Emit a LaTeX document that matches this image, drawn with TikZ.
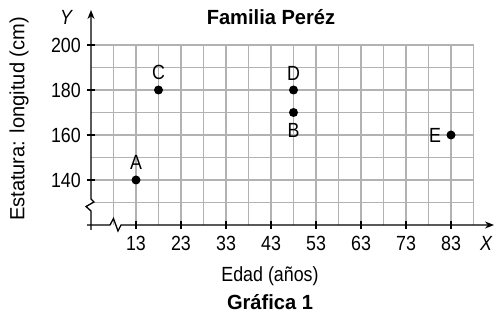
\documentclass[tikz,border=0pt]{standalone}
\usepackage{fontspec}
\setmainfont{Liberation Sans}[FakeStretch=0.87]
\newfontfamily\titlef{Liberation Sans}[FakeStretch=0.98]
\usetikzlibrary{arrows.meta}
\tikzset{
  gridline/.style={draw=black!30, line width=1.1pt},
  axisline/.style={draw=black, line width=1.3pt},
  tickline/.style={draw=black, line width=1.3pt},
  dot/.style={circle, fill=black, inner sep=0pt, minimum size=9pt},
  ticklbl/.style={inner sep=0pt},
  ptlbl/.style={inner sep=0pt},
  ttl/.style={inner sep=0pt, font=\titlef\bfseries\fontsize{20.5}{24}\selectfont},
}
\begin{document}
\begin{tikzpicture}[x=1pt,y=-1pt,font=\fontsize{20.5}{24}\selectfont]
\useasboundingbox (0,0) rectangle (495,320);
% grid
\foreach \i in {1,...,17} \draw[gridline] ({91+22.5*\i},45) -- ({91+22.5*\i},225);
\foreach \j in {0,...,7} \draw[gridline] (91,{45+22.5*\j}) -- (473.5,{45+22.5*\j});
% axes
\coordinate (xs) at (87,225);
\coordinate (xe) at (494,225);
\coordinate (ys) at (91,230);
\coordinate (ye) at (91,10);
\draw[axisline,-{Stealth[length=9pt,width=7pt]}] (xs) -- (110,225) -- (113.5,218.5) -- (118,231) -- (121,225) -- (xe);
\draw[axisline,-{Stealth[length=9pt,width=7pt]}] (ys) -- (91,211) -- (86,206.5) -- (94,202) -- (91,199) -- (ye);
% x ticks
\foreach \v [count=\k from 0] in {13,23,33,43,53,63,73,83} {
  \draw[tickline] ({136+45*\k},221) -- ({136+45*\k},229);
  \node[ticklbl] (xl\v) at ({136+45*\k},243.5) {\v};
}
% y ticks
\foreach \v/\yy in {200/45,180/90,160/135,140/180} {
  \draw[tickline] (87,\yy) -- (95,\yy);
  \node[ticklbl, anchor=east] (yl\v) at (81,\yy) {\v};
}
\node[ticklbl] (X) at (486,243.5) {\itshape X};
\node[ticklbl] (Y) at (66,17) {\itshape Y};
% points
\node[dot] (A) at (136,180) {};
\node[dot] (C) at (158.5,90) {};
\node[dot] (D) at (293.5,90) {};
\node[dot] (B) at (293.5,112.5) {};
\node[dot] (E) at (451,135) {};
\node[ptlbl] (lA) at (136,162) {A};
\node[ptlbl] (lC) at (158.5,72.5) {C};
\node[ptlbl] (lD) at (293.5,73) {D};
\node[ptlbl] (lB) at (293.5,130) {B};
\node[ptlbl] (lE) at (435,135) {E};
% titles
\node[ttl] (title) at (271,17) {Familia Peréz};
\node[ticklbl] (xlab) at (270,276) {Edad (años)};
\node[ttl] (cap) at (270,302) {Gráfica 1};
\node[ticklbl, rotate=90, font=\titlef\fontsize{20.5}{24}\selectfont] (ylab) at (19,119) {Estatura: longitud (cm)};
\end{tikzpicture}
\end{document}
